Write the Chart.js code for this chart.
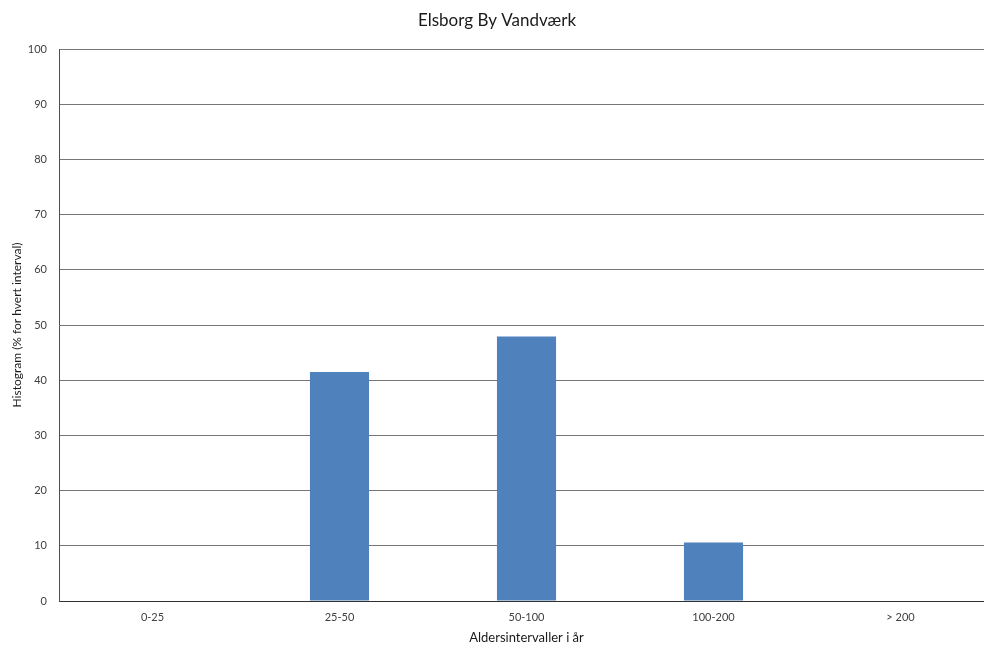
<!DOCTYPE html>
<html>
<head>
<meta charset="utf-8">
<script src="https://cdn.jsdelivr.net/npm/chart.js@4/dist/chart.umd.min.js"></script>
<style>
  html, body { margin: 0; padding: 0; background: #fff; overflow: hidden; }
  #wrap { width: 997px; height: 646px; }
</style>
</head>
<body>
<div id="wrap"><canvas id="c" width="997" height="646"></canvas></div>
<script>
// Age intervals (years) and share of pipes in each interval (%)
const categories = ['0-25', '25-50', '50-100', '100-200', '> 200'];
const shares = [0, 41.5, 47.9, 10.6, 0];
const yTicks = [0, 10, 20, 30, 40, 50, 60, 70, 80, 90, 100];

const FONT = 'Lato, "Open Sans", "DejaVu Sans", sans-serif';

new Chart(document.getElementById('c'), {
  type: 'bar',
  data: {
    labels: categories,
    datasets: [{
      data: shares,
      backgroundColor: '#4F81BD',
      borderWidth: 0,
      categoryPercentage: 1,
      barPercentage: 0.316
    }]
  },
  options: {
    responsive: false,
    devicePixelRatio: 1,
    animation: false,
    layout: { padding: { left: 0, right: 3, top: 0, bottom: 0 } },
    plugins: {
      legend: { display: false },
      tooltip: { enabled: false },
      title: {
        display: true,
        text: 'Elsborg By Vandværk',
        color: '#1a1a1a',
        font: { family: FONT, size: 17, weight: 'normal', lineHeight: 1.2 },
        padding: { top: 10, bottom: 18.6 }
      }
    },
    scales: {
      x: {
        grid: { display: false, drawTicks: false },
        border: { display: true, color: '#303030', width: 1 },
        ticks: {
          color: '#404040',
          padding: 10,
          maxRotation: 0,
          font: { family: FONT, size: 11 }
        },
        title: {
          display: true,
          text: 'Aldersintervaller i år',
          color: '#1a1a1a',
          font: { family: FONT, size: 13, lineHeight: 1.2 },
          padding: { top: 0, bottom: 0 }
        },
        afterFit: (axis) => { axis.height = 45; }
      },
      y: {
        min: 0,
        max: 100,
        afterBuildTicks: (axis) => { axis.ticks = yTicks.map(v => ({ value: v })); },
        grid: { color: '#767676', lineWidth: 1, drawTicks: false },
        border: { display: true, color: '#505050', width: 1 },
        ticks: {
          color: '#404040',
          padding: 12,
          font: { family: FONT, size: 11 }
        },
        title: {
          display: true,
          text: 'Histogram (% for hvert interval)',
          color: '#1a1a1a',
          font: { family: FONT, size: 12, lineHeight: 1.2 },
          padding: { top: 10, bottom: 0 }
        },
        afterFit: (axis) => { axis.width = 59; }
      }
    }
  }
});
</script>
</body>
</html>
